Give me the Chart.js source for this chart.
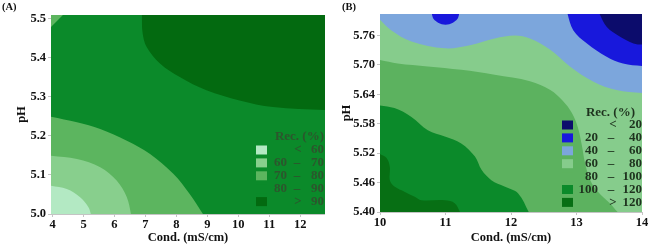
<!DOCTYPE html>
<html lang="en">
<head>
<meta charset="UTF-8" />
<title>Rec. (%) contour plots</title>
<script src="https://cdn.jsdelivr.net/npm/chart.js"></script>
<style>
  * { margin: 0; padding: 0; box-sizing: border-box; }
  body { width: 650px; height: 245px; background: #fff; overflow: hidden; position: relative; }
  .panel { position: absolute; top: 0; width: 325px; height: 245px; }
  #panelA { left: 0; }
  #panelB { left: 325px; }
  .tag { position: absolute; top: 1px; font: bold 10.5px "Liberation Serif", serif; color: #111; }
</style>
</head>
<body>

<div class="panel" id="panelA"><canvas id="chartA" width="325" height="245"></canvas></div>
<div class="panel" id="panelB"><canvas id="chartB" width="325" height="245"></canvas></div>
<span class="tag" style="left:2px">(A)</span>
<span class="tag" style="left:342px">(B)</span>

<script>
// ---------- panel A ----------
const condTicksA = [4, 5, 6, 7, 8, 9, 10, 11, 12];
const phTicksA = [5.0, 5.1, 5.2, 5.3, 5.4, 5.5];
const bandsA = [['<', '60'], ['60', '70'], ['70', '80'], ['80', '90'], ['>', '90']];
// contour boundaries as [cond, pH]
const a90 = [[6.88, 5.52], [6.91, 5.463], [7.04, 5.428], [7.47, 5.386], [8.11, 5.351], [8.97, 5.317], [10.04, 5.291], [11.12, 5.274], [12.85, 5.266]];
const a80 = [[3.9, 5.25], [4.79, 5.235], [5.54, 5.218], [6.40, 5.188], [7.15, 5.154], [7.90, 5.103], [8.43, 5.051], [8.94, 4.99]];
const a70 = [[3.9, 5.150], [4.79, 5.141], [5.54, 5.120], [6.07, 5.086], [6.40, 5.043], [6.56, 4.99]];
const a60 = [[3.9, 5.073], [4.46, 5.064], [4.89, 5.043], [5.16, 5.017], [5.27, 4.99]];
const aCorner = [[3.9, 5.475], [4.46, 5.52]];

// ---------- panel B ----------
const condTicksB = [10, 11, 12, 13, 14];
const phTicksB = [5.40, 5.46, 5.52, 5.58, 5.64, 5.70, 5.76];
const bandsB = [['<', '20'], ['20', '40'], ['40', '60'], ['60', '80'], ['80', '100'], ['100', '120'], ['>', '120']];
const b60 = [[10.0, 5.710], [10.27, 5.703], [10.73, 5.697], [11.24, 5.690], [11.75, 5.680], [12.29, 5.667], [12.60, 5.649], [12.79, 5.627], [12.93, 5.602], [13.02, 5.573], [13.08, 5.537], [13.13, 5.500], [13.21, 5.465], [13.33, 5.441], [13.51, 5.418], [13.69, 5.395], [14.05, 5.395]];
const b40 = [[9.98, 5.795], [10.17, 5.771], [10.48, 5.748], [10.99, 5.734], [11.39, 5.741], [11.75, 5.754], [12.06, 5.760], [12.29, 5.754], [12.60, 5.731], [12.90, 5.697], [13.26, 5.666], [13.61, 5.649], [14.05, 5.642]];
const b20 = [[12.85, 5.81], [12.95, 5.771], [13.16, 5.744], [13.46, 5.717], [13.71, 5.703], [14.05, 5.697]];
const bNavy = [[13.33, 5.81], [13.46, 5.778], [13.66, 5.758], [13.87, 5.744], [14.05, 5.741]];
const bDot = [[10.783, 5.81], [10.809, 5.796], [10.846, 5.790], [10.887, 5.786], [10.942, 5.783], [11.0, 5.782], [11.058, 5.783], [11.113, 5.786], [11.154, 5.790], [11.191, 5.796], [11.217, 5.81]];
const b100 = [[9.98, 5.618], [10.22, 5.612], [10.48, 5.594], [10.73, 5.567], [10.99, 5.554], [11.24, 5.540], [11.45, 5.513], [11.55, 5.486], [11.70, 5.465], [11.90, 5.452], [12.11, 5.438], [12.29, 5.395]];
const b120 = [[9.98, 5.520], [10.10, 5.510], [10.15, 5.492], [10.15, 5.465], [10.22, 5.452], [10.38, 5.441], [10.53, 5.431], [10.63, 5.424], [10.99, 5.424], [11.14, 5.418], [11.24, 5.395]];

const tickFont = { family: '"Liberation Serif", serif', size: 12.5, weight: 'bold' };
const titleFont = { family: '"Liberation Serif", serif', size: 12.5, weight: 'bold' };
const legendFont = 'bold 13px "Liberation Serif", serif';
const axisGray = '#c4c4c4';

const colA = { c60: '#b3e9c3', c70: '#88cf8d', c80: '#5cb55f', c90: '#0b8a2a', c100: '#036a10' };
const colB = { navy: '#0c0c6c', blue: '#1818dc', sky: '#7ca6dc', pale: '#86cc8c', mid: '#5cb25f', deep: '#0b8a2a', dark: '#076f14' };

function region(pts, color, fill) {
  return {
    data: pts.map(([x, y]) => ({ x, y })),
    showLine: true,
    fill: fill,
    backgroundColor: color,
    borderColor: 'rgba(0,0,0,0)',
    borderWidth: 0,
    pointRadius: 0,
    tension: 0.35
  };
}

function axes(xr, yr, xTicks, yTicks, yDigits, yWidth, xHeight) {
  const grid = { drawOnChartArea: false, drawTicks: true, tickLength: 3, color: axisGray };
  return {
    x: {
      type: 'linear', min: xr[0], max: xr[1], grid, border: { color: axisGray },
      afterBuildTicks: s => { s.ticks = xTicks.map(v => ({ value: v })); },
      afterFit: s => { s.height = xHeight; },
      ticks: { font: tickFont, color: '#111', padding: 0, maxRotation: 0, autoSkip: false, callback: v => String(v) },
      title: { display: true, text: 'Cond. (mS/cm)', font: titleFont, color: '#111', padding: 0 }
    },
    y: {
      type: 'linear', min: yr[0], max: yr[1], grid, border: { color: axisGray },
      afterBuildTicks: s => { s.ticks = yTicks.map(v => ({ value: v })); },
      afterFit: s => { s.width = yWidth; },
      ticks: { font: tickFont, color: '#111', padding: 2, autoSkip: false, callback: v => v.toFixed(yDigits) },
      title: { display: true, text: 'pH', font: titleFont, color: '#111', padding: { top: 14.5, bottom: 0 } }
    }
  };
}

function areaBg(color) {
  return {
    id: 'areaBg',
    beforeDatasetsDraw(chart) {
      const { ctx, chartArea: a } = chart;
      ctx.save();
      ctx.fillStyle = color;
      ctx.fillRect(a.left, a.top, a.right - a.left, a.bottom - a.top);
      ctx.restore();
    }
  };
}

function recLegend(bands, colors, L) {
  return {
    id: 'recLegend',
    afterDraw(chart) {
      const { ctx, chartArea: { right, top } } = chart;
      ctx.save();
      ctx.font = legendFont;
      ctx.textBaseline = 'middle';
      ctx.fillStyle = L.text;
      ctx.textAlign = 'right';
      ctx.fillText('Rec. (%)', right + L.titleRight, top + L.titleY);
      bands.forEach(([lo, hi], i) => {
        const y = top + L.rowY + i * L.rowGap;
        ctx.fillStyle = colors[i];
        ctx.fillRect(right + L.boxX, y - 4.5, 11, 9);
        ctx.fillStyle = L.text;
        if (lo === '<' || lo === '>') {
          ctx.textAlign = 'center';
          ctx.fillText(lo, right + L.sym, y);
        } else {
          ctx.textAlign = 'right';
          ctx.fillText(lo, right + L.loRight, y);
          ctx.textAlign = 'center';
          ctx.fillText('–', right + L.dash, y);
        }
        ctx.textAlign = 'right';
        ctx.fillText(hi, right + L.hiRight, y);
      });
      ctx.restore();
    }
  };
}

function build(id, regions, bg, scales, padding, legend) {
  // regions listed bottom to top; higher order is drawn first
  regions.forEach((r, i) => { r.order = regions.length - i; });
  return new Chart(document.getElementById(id), {
    type: 'scatter',
    data: { datasets: regions },
    options: {
      responsive: false,
      animation: false,
      layout: { padding },
      scales,
      plugins: { legend: { display: false }, tooltip: { enabled: false } }
    },
    plugins: [areaBg(bg), legend]
  });
}

build('chartA', [
    region(a90, colA.c100, 'end'),
    region(a80, colA.c80, 'start'),
    region(a70, colA.c70, 'start'),
    region(a60, colA.c60, 'start'),
    region(aCorner, colA.c80, 'end')
  ], colA.c90,
  axes([3.95, 12.8], [5.0, 5.51], condTicksA, phTicksA, 1, 51, 31),
  { top: 15, right: 0, left: 0, bottom: 0 },
  recLegend(bandsA, [colA.c60, colA.c70, colA.c80, colA.c90, colA.c100],
    { text: '#2d552d', titleRight: -1, titleY: 122, rowY: 135, rowGap: 12.9, boxX: -69, loRight: -38, dash: -28, sym: -27, hiRight: -1 })
);

build('chartB', [
    region(b60, colB.pale, 'end'),
    region(b40, colB.sky, 'end'),
    region(b20, colB.blue, 'end'),
    region(bNavy, colB.navy, 'end'),
    region(bDot, colB.blue, 'end'),
    region(b100, colB.deep, 'start'),
    region(b120, colB.dark, 'start')
  ], colB.mid,
  axes([10, 14], [5.40, 5.804], condTicksB, phTicksB, 2, 55, 33),
  { top: 14, right: 8, left: 0, bottom: 0 },
  recLegend(bandsB, [colB.navy, colB.blue, colB.sky, colB.pale, colB.mid, colB.deep, colB.dark],
    { text: '#1e321e', titleRight: -7, titleY: 99, rowY: 111, rowGap: 12.9, boxX: -80, loRight: -44, dash: -31, sym: -29, hiRight: 0 })
);
</script>
</body>
</html>
